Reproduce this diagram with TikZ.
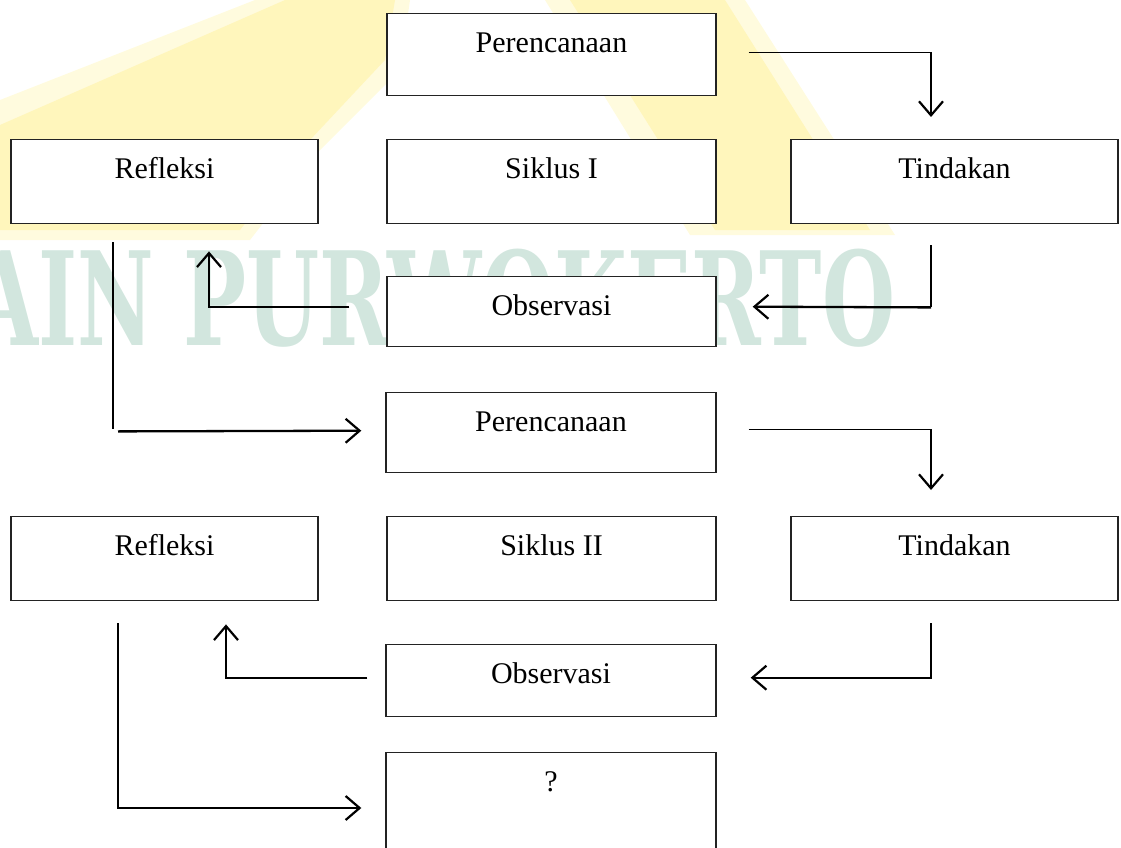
\documentclass[tikz,border=0pt]{standalone}
\usepackage{fontspec}
\setmainfont{Liberation Serif}
\newfontfamily\wmfont{DejaVu Serif}
\usetikzlibrary{arrows.meta,calc}
\definecolor{wmgreen}{RGB}{210,230,222}
\definecolor{wmyellow}{RGB}{255,246,188}
\definecolor{wmyellowlight}{RGB}{255,251,222}
\definecolor{boxline}{RGB}{35,35,35}
\begin{document}
\begin{tikzpicture}[x=1pt,y=-1pt,
  box/.style={draw=boxline, fill=white, line width=1.4pt, inner sep=0pt,
    text height=39pt, anchor=north, font=\fontsize{30}{36}\selectfont},
  thinconn/.style={line width=1.3pt},
  thickconn/.style={line width=2.3pt},
  tip/.style={-{Straight Barb[length=14pt,width=24pt,line width=2.2pt]}}
]
\useasboundingbox (0,0) rectangle (1121,848);
\clip (0,0) rectangle (1121,848);
% watermark
\fill[wmyellowlight] (255,0) -- (410,0) -- (400,70) -- (320,150) -- (250,240) -- (0,240) -- (0,100) -- cycle;
\fill[wmyellow] (285,0) -- (395,0) -- (385,60) -- (310,140) -- (240,230) -- (0,230) -- (0,125) -- cycle;
\fill[wmyellowlight] (545,0) -- (745,0) -- (895,235) -- (690,235) -- cycle;
\fill[wmyellow] (570,0) -- (725,0) -- (870,230) -- (715,230) -- cycle;
\node[anchor=base west, text=wmgreen, inner sep=0pt, xscale=0.645,
  font=\wmfont\bfseries\fontsize{130}{130}\selectfont] (wm) at (-66,345) {IAIN PURWOKERTO};
% boxes
\node[box, minimum width=329pt, text depth=43pt] (p1) at (551.5,13) {Perencanaan};
\node[box, minimum width=307pt, text depth=45pt] (r1) at (164.5,139) {Refleksi};
\node[box, minimum width=329pt, text depth=45pt] (s1) at (551.5,139) {Siklus I};
\node[box, minimum width=327pt, text depth=45pt] (t1) at (954.5,139) {Tindakan};
\node[box, minimum width=329pt, text depth=31pt] (o1) at (551.5,276) {Observasi};
\node[box, minimum width=330pt, text depth=41pt] (p2) at (551,392) {Perencanaan};
\node[box, minimum width=307pt, text depth=45pt] (r2) at (164.5,516) {Refleksi};
\node[box, minimum width=329pt, text depth=45pt] (s2) at (551.5,516) {Siklus II};
\node[box, minimum width=327pt, text depth=45pt] (t2) at (954.5,516) {Tindakan};
\node[box, minimum width=330pt, text depth=33pt] (o2) at (551,644) {Observasi};
\node[box, minimum width=330pt, text depth=71pt] (q) at (551,752) {?};
% connectors
\draw[thinconn, tip] ($(p1.east)+(32,-2)$) -| ($(t1.north)+(-23.5,-22)$);
\draw[thinconn] ($(t1.south)+(-23.5,21)$) -- ($(t1.south)+(-23.5,83)$);
\draw[thickconn, tip] ($(t1.south)+(-23.5,83)$) -- ($(o1.east)+(36,-5)$);
\draw[thickconn, tip] ($(o1.west)+(-37,-5)$) -| ($(r1.south)+(44.5,27)$);
\draw[thinconn] ($(r1.south)+(-51.5,18)$) -- ($(r1.south)+(-51.5,205)$);
\draw[thickconn, tip] ($(r1.south)+(-46.5,207)$) -- ($(p2.west)+(-24,-2)$);
\draw[thinconn, tip] ($(p2.east)+(32,-3)$) -| ($(t2.north)+(-23.5,-26)$);
\draw[thickconn, tip] ($(t2.south)+(-23.5,22)$) |- ($(o2.east)+(34,-3)$);
\draw[thickconn, tip] ($(o2.west)+(-18,-3)$) -| ($(r2.south)+(61.5,23)$);
\draw[thickconn, tip] ($(r2.south)+(-46.5,22)$) |- ($(q.north west)+(-24,56)$);
\end{tikzpicture}
\end{document}
